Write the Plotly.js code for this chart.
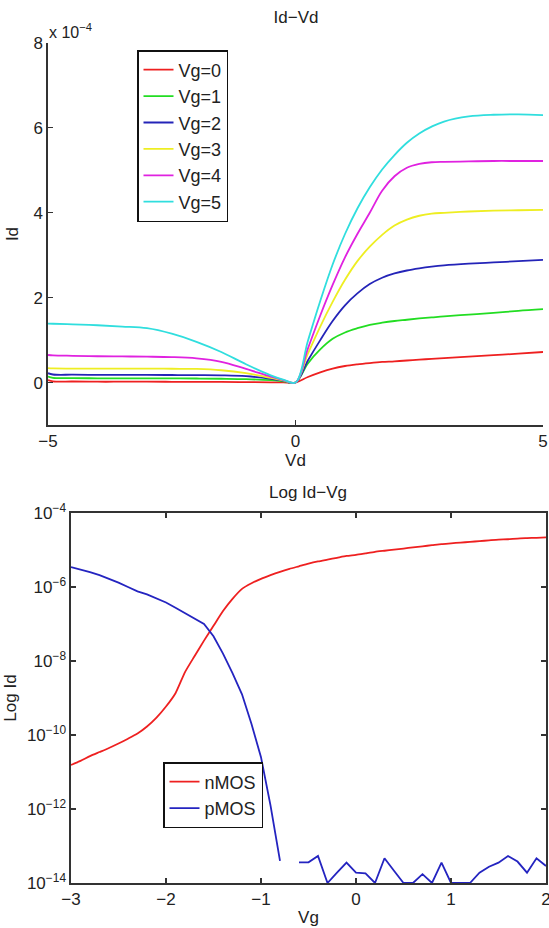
<!DOCTYPE html>
<html><head><meta charset="utf-8">
<script src="https://cdn.plot.ly/plotly-3.0.1.min.js"></script>
<style>html,body{margin:0;padding:0;background:#fff;} #chart{width:549px;height:928px;}</style>
</head><body><div id="chart"></div>
<script>
// ---- Top chart: Id vs Vd (Id in units of 1e-4) ----
const vd = [-5, -4.9, -4.5, -4, -3.5, -3, -2.5, -2, -1.5, -1, -0.5, -0.25, 0, 0.25, 0.5, 0.75, 1, 1.25, 1.5, 1.75, 2, 2.25, 2.5, 2.75, 3, 3.5, 4, 4.5, 5];
const idVg0 = [0.06, 0.03, 0.025, 0.02, 0.02, 0.02, 0.018, 0.016, 0.014, 0.01, 0.006, 0.003, 0, 0.13, 0.24, 0.33, 0.39, 0.43, 0.46, 0.485, 0.5, 0.52, 0.54, 0.557, 0.575, 0.61, 0.645, 0.68, 0.72];
const idVg1 = [0.14, 0.11, 0.105, 0.1, 0.1, 0.1, 0.098, 0.095, 0.09, 0.08, 0.055, 0.03, 0, 0.45, 0.78, 1.03, 1.18, 1.28, 1.36, 1.41, 1.45, 1.48, 1.51, 1.535, 1.56, 1.6, 1.64, 1.69, 1.73];
const idVg2 = [0.22, 0.19, 0.185, 0.18, 0.18, 0.18, 0.178, 0.175, 0.17, 0.15, 0.09, 0.045, 0, 0.52, 1.0, 1.45, 1.82, 2.1, 2.32, 2.47, 2.57, 2.64, 2.69, 2.73, 2.76, 2.8, 2.83, 2.86, 2.89];
const idVg3 = [0.34, 0.335, 0.33, 0.33, 0.33, 0.33, 0.325, 0.32, 0.29, 0.22, 0.11, 0.05, 0, 0.68, 1.32, 1.9, 2.42, 2.86, 3.2, 3.48, 3.7, 3.84, 3.93, 3.98, 4.0, 4.03, 4.05, 4.06, 4.07];
const idVg4 = [0.65, 0.64, 0.63, 0.62, 0.615, 0.61, 0.6, 0.57, 0.49, 0.32, 0.14, 0.06, 0, 0.8, 1.58, 2.3, 2.95, 3.5, 4.0, 4.52, 4.86, 5.06, 5.15, 5.19, 5.2, 5.21, 5.22, 5.22, 5.22];
const idVg5 = [1.39, 1.385, 1.37, 1.35, 1.32, 1.28, 1.15, 0.96, 0.72, 0.43, 0.17, 0.07, 0, 0.98, 1.92, 2.78, 3.5, 4.1, 4.6, 5.02, 5.36, 5.65, 5.87, 6.03, 6.15, 6.27, 6.31, 6.32, 6.3];
const vgLabels = ['Vg=0', 'Vg=1', 'Vg=2', 'Vg=3', 'Vg=4', 'Vg=5'];
const vgColors = ['#ee2020', '#22dd22', '#2424b8', '#eeee22', '#e022e0', '#30dede'];

// ---- Bottom chart: log10(Id) vs Vg ----
const vg = [-3, -2.9, -2.8, -2.7, -2.6, -2.5, -2.4, -2.3, -2.2, -2.1, -2, -1.9, -1.8, -1.7, -1.6, -1.5, -1.4, -1.3, -1.2, -1.1, -1, -0.9, -0.8, -0.7, -0.6, -0.5, -0.4, -0.3, -0.2, -0.1, 0, 0.1, 0.2, 0.3, 0.4, 0.5, 0.6, 0.7, 0.8, 0.9, 1, 1.1, 1.2, 1.3, 1.4, 1.5, 1.6, 1.7, 1.8, 1.9, 2];
const nmosLog = [-10.81, -10.7, -10.57, -10.46, -10.35, -10.23, -10.1, -9.96, -9.77, -9.53, -9.23, -8.87, -8.3, -7.87, -7.45, -7.05, -6.65, -6.32, -6.05, -5.9, -5.78, -5.68, -5.59, -5.51, -5.44, -5.37, -5.31, -5.26, -5.21, -5.16, -5.13, -5.09, -5.05, -5.02, -4.99, -4.96, -4.93, -4.9, -4.87, -4.84, -4.82, -4.8, -4.78, -4.76, -4.74, -4.72, -4.71, -4.69, -4.68, -4.67, -4.66];
const pmosLog = [-5.46, -5.52, -5.6, -5.68, -5.77, -5.88, -6.0, -6.12, -6.2, -6.3, -6.42, -6.56, -6.7, -6.85, -7.0, -7.33, -7.8, -8.33, -8.9, -9.7, -10.6, -11.9, -13.4, null, -13.44, -13.44, -13.27, -14, -13.72, -13.45, -13.72, -13.74, -14, -13.33, -13.67, -14, -14, -13.76, -14, -13.45, -14, -14, -14, -13.72, -13.56, -13.45, -13.27, -13.42, -13.72, -13.33, -13.54];
const mosLabels = ['nMOS', 'pMOS'];
const mosColors = ['#ee2020', '#2424c0'];
const logTickVals = [1e-14, 1e-12, 1e-10, 1e-8, 1e-6, 1e-4];
const logTickText = ['10<sup>−14</sup>', '10<sup>−12</sup>', '10<sup>−10</sup>', '10<sup>−8</sup>', '10<sup>−6</sup>', '10<sup>−4</sup>'];

const W = 549, H = 928;
const px = p => p / W;
const py = p => 1 - p / H;
const FONT = 'Liberation Sans, Arial, Helvetica, sans-serif';
const AX = '#333333';

const topSeries = [idVg0, idVg1, idVg2, idVg3, idVg4, idVg5];
const traces = topSeries.map((ys, i) => ({
  x: vd, y: ys, type: 'scatter', mode: 'lines', name: vgLabels[i],
  line: {color: vgColors[i], width: 1.8, shape: 'spline', smoothing: 1},
  xaxis: 'x', yaxis: 'y', legend: 'legend'
}));
[nmosLog, pmosLog].forEach((arr, i) => {
  traces.push({
    x: vg, y: arr.map(v => v === null ? null : Math.pow(10, v)), type: 'scatter', mode: 'lines',
    name: mosLabels[i], connectgaps: false,
    line: {color: mosColors[i], width: 1.8, shape: i === 0 ? 'spline' : 'linear', smoothing: 0.6},
    xaxis: 'x2', yaxis: 'y2', legend: 'legend2'
  });
});

const axisBase = {
  showline: true, linecolor: AX, linewidth: 1.6, ticks: 'inside', ticklen: 5, tickwidth: 1.2,
  tickcolor: AX, showgrid: false, zeroline: false, ticklabeloverflow: 'allow',
  tickfont: {family: FONT, size: 17, color: '#222'}
};

const layout = {
  width: W, height: H, margin: {l: 0, r: 0, t: 0, b: 0},
  paper_bgcolor: '#fff', plot_bgcolor: '#fff', showlegend: true,
  font: {family: FONT, size: 17, color: '#222'},
  title: {text: 'Id−Vd', x: px(296), y: py(17), xanchor: 'center', yanchor: 'middle', xref: 'paper', yref: 'paper',
          font: {family: FONT, size: 17, color: '#222'}},
  xaxis: Object.assign({}, axisBase, {domain: [px(48), px(543)], range: [-5, 5], tickvals: [-5, 0, 5], anchor: 'y',
          title: {text: 'Vd', standoff: 0, font: {family: FONT, size: 17, color: '#222'}}}),
  yaxis: Object.assign({}, axisBase, {domain: [py(425), py(43)], range: [-1, 8], tickvals: [0, 2, 4, 6, 8], anchor: 'x',
          title: {text: 'Id', standoff: 10, font: {family: FONT, size: 17, color: '#222'}}}),
  xaxis2: Object.assign({}, axisBase, {domain: [px(71), px(546)], range: [-3, 2], tickvals: [-3, -2, -1, 0, 1, 2], anchor: 'y2', mirror: 'ticks',
          title: {text: 'Vg', standoff: 3, font: {family: FONT, size: 17, color: '#222'}}}),
  yaxis2: Object.assign({}, axisBase, {domain: [py(883), py(513)], type: 'log', range: [-14, -4], tickvals: logTickVals, ticktext: logTickText, anchor: 'x2', mirror: 'ticks',
          title: {text: 'Log Id', standoff: 6, font: {family: FONT, size: 17, color: '#222'}}}),
  legend: {x: px(137), y: py(50), xanchor: 'left', yanchor: 'top', bgcolor: '#fff', bordercolor: '#111', borderwidth: 1.5,
           font: {family: FONT, size: 18, color: '#222'}, itemwidth: 30, tracegroupgap: 0},
  legend2: {x: px(163), y: py(762), xanchor: 'left', yanchor: 'top', bgcolor: '#fff', bordercolor: '#111', borderwidth: 1.5,
           font: {family: FONT, size: 18, color: '#222'}, itemwidth: 30, tracegroupgap: 0},
  annotations: [
    {text: 'Log Id−Vg', xref: 'paper', yref: 'paper', x: px(308), y: py(492), xanchor: 'center', yanchor: 'middle', showarrow: false,
     font: {family: FONT, size: 17, color: '#222'}},
    {text: 'x 10<sup>−4</sup>', xref: 'paper', yref: 'paper', x: px(47), y: py(31), xanchor: 'left', yanchor: 'middle', showarrow: false,
     font: {family: FONT, size: 16, color: '#222'}}
  ]
};

Plotly.newPlot('chart', traces, layout, {displayModeBar: false, staticPlot: true});
</script>
</body></html>
